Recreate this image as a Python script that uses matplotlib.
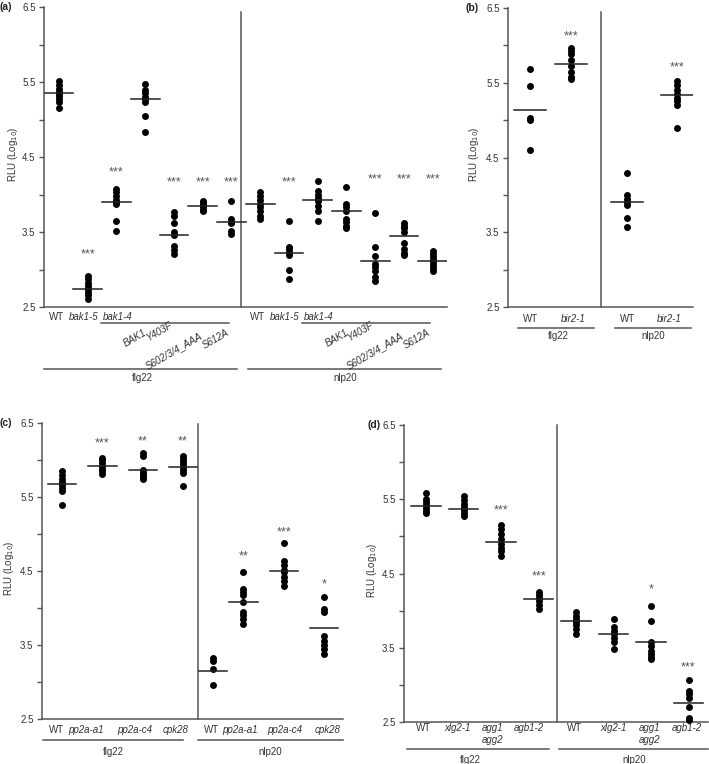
import matplotlib
matplotlib.use("Agg")
import matplotlib.pyplot as plt

plt.rcParams["font.family"] = ["Liberation Sans", "DejaVu Sans"]

FIG_W, FIG_H = 709, 764
INK = "#333333"
AXIS = "#555555"
FS = 7

# ---------------------------------------------------------------------------
# Data (RLU, log10)
# ---------------------------------------------------------------------------

# (a) bak1 complementation lines
A_POS = [0, 1, 2, 3, 4, 5, 6, 7, 8, 9, 10, 11, 12, 13]
A_DOTS = [
    [5.52, 5.46, 5.41, 5.37, 5.34, 5.31, 5.28, 5.23, 5.16],
    [2.92, 2.87, 2.82, 2.78, 2.74, 2.70, 2.66, 2.61],
    [4.08, 4.03, 3.98, 3.93, 3.90, 3.87, 3.65, 3.51],
    [5.47, 5.40, 5.35, 5.30, 5.27, 5.24, 5.05, 4.83],
    [3.77, 3.72, 3.62, 3.50, 3.46, 3.32, 3.26, 3.21],
    [3.92, 3.89, 3.86, 3.83, 3.80, 3.78],
    [3.92, 3.67, 3.64, 3.62, 3.52, 3.48],
    [4.03, 3.98, 3.93, 3.88, 3.83, 3.78, 3.72, 3.68],
    [3.65, 3.30, 3.27, 3.23, 3.20, 3.00, 2.87],
    [4.18, 4.05, 4.00, 3.96, 3.92, 3.85, 3.78, 3.65],
    [4.10, 3.88, 3.83, 3.78, 3.68, 3.63, 3.58, 3.56],
    [3.75, 3.30, 3.18, 3.08, 3.03, 2.98, 2.90, 2.85],
    [3.62, 3.58, 3.55, 3.50, 3.36, 3.28, 3.22, 3.20],
    [3.25, 3.21, 3.17, 3.13, 3.10, 3.06, 3.02, 2.98],
]
A_MEANS = [5.35, 2.74, 3.90, 5.28, 3.46, 3.85, 3.63,
           3.87, 3.22, 3.93, 3.78, 3.12, 3.45, 3.12]
A_STARS = ["", "***", "***", "", "***", "***", "***",
           "", "***", "", "", "***", "***", "***"]
A_STAR_Y = [0, 3.20, 4.29, 0, 4.16, 4.16, 4.16,
            0, 4.16, 0, 0, 4.20, 4.20, 4.20]
A_TOP_LABELS = ["WT", "bak1-5", "bak1-4"]
A_TOP_POS = [-0.1, 0.87, 2.03]
A_ROT_LABELS = ["BAK1", "Y403F", "S602/3/4_AAA", "S612A"]

# (b) bir2-1
B_POS = [0, 1, 2.37, 3.59]
B_DOTS = [
    [5.69, 5.46, 5.03, 5.00, 4.60],
    [5.96, 5.92, 5.88, 5.80, 5.72, 5.65, 5.58, 5.55],
    [4.29, 4.00, 3.95, 3.90, 3.86, 3.69, 3.57],
    [5.52, 5.47, 5.40, 5.35, 5.30, 5.25, 5.20, 4.90],
]
B_MEANS = [5.14, 5.75, 3.90, 5.33]
B_STARS = ["", "***", "", "***"]
B_STAR_Y = [0, 6.12, 0, 5.70]
B_LABELS = ["WT", "bir2-1", "WT", "bir2-1"]
B_LABEL_POS = [0.02, 1.05, 2.37, 3.41]

# (c) pp2a / cpk28
C_POS = [0, 1, 2, 3, 3.75, 4.5, 5.5, 6.5]
C_DOTS = [
    [5.85, 5.80, 5.74, 5.70, 5.66, 5.62, 5.58, 5.39],
    [6.03, 6.00, 5.96, 5.92, 5.88, 5.85, 5.81],
    [6.09, 6.06, 5.86, 5.83, 5.80, 5.77, 5.75],
    [6.05, 6.02, 5.98, 5.94, 5.90, 5.86, 5.82, 5.65],
    [3.32, 3.28, 3.18, 2.96],
    [4.48, 4.26, 4.22, 4.17, 4.08, 3.95, 3.90, 3.85, 3.78],
    [4.88, 4.64, 4.58, 4.52, 4.48, 4.42, 4.36, 4.30],
    [4.15, 3.98, 3.94, 3.62, 3.56, 3.50, 3.45, 3.38],
]
C_MEANS = [5.67, 5.92, 5.87, 5.90, 3.15, 4.08, 4.50, 3.73]
C_STARS = ["", "***", "**", "**", "", "**", "***", "*"]
C_STAR_Y = [0, 6.23, 6.25, 6.25, 0, 4.70, 5.02, 4.32]
C_LABELS = ["WT", "pp2a-a1", "pp2a-c4", "cpk28"] * 2
C_LABEL_POS = [-0.15, 0.6, 1.79, 2.81, 3.70, 4.42, 5.53, 6.58]

# (d) G-protein mutants
D_POS = [0, 1, 2, 3, 4, 5, 6, 7]
D_DOTS = [
    [5.59, 5.50, 5.46, 5.42, 5.38, 5.34, 5.31],
    [5.54, 5.49, 5.44, 5.40, 5.36, 5.31, 5.27],
    [5.15, 5.10, 5.03, 4.96, 4.90, 4.85, 4.80, 4.73],
    [4.25, 4.21, 4.17, 4.13, 4.08, 4.02],
    [3.98, 3.93, 3.89, 3.85, 3.80, 3.75, 3.69],
    [3.89, 3.78, 3.73, 3.68, 3.63, 3.58, 3.48],
    [4.06, 3.86, 3.58, 3.52, 3.46, 3.42, 3.38, 3.35],
    [3.06, 2.92, 2.88, 2.82, 2.70, 2.56, 2.53],
]
D_MEANS = [5.41, 5.37, 4.93, 4.16, 3.86, 3.68, 3.58, 2.75]
D_STARS = ["", "", "***", "***", "", "", "*", "***"]
D_STAR_Y = [0, 0, 5.35, 4.46, 0, 0, 4.28, 3.23]
D_LABELS = ["WT", "xlg2-1", "agg1\nagg2", "agb1-2"] * 2
D_LABEL_POS = [-0.08, 0.85, 1.76, 2.75, 3.97, 4.99, 5.97, 6.96]


def below(ax, px):
    """Pixel offset below the x axis -> axes fraction."""
    return -px / (ax.get_position().height * FIG_H)


def hline(ax, x0, x1, px):
    y = below(ax, px)
    ax.plot([x0, x1], [y, y], color=AXIS, lw=1.1,
            transform=ax.get_xaxis_transform(), clip_on=False)


def label(ax, x, px, s, **kw):
    kw.setdefault("ha", "center")
    kw.setdefault("va", "center")
    ax.text(x, below(ax, px), s, fontsize=FS, color=INK,
            transform=ax.get_xaxis_transform(), **kw)


def strain(ax, x, px, s):
    style = "normal" if s == "WT" else "italic"
    for i, line in enumerate(s.split("\n")):
        label(ax, x, px + 12 * i, line, style=style)


def draw_panel(ax, pos, dots, means, half, stars, star_y, divider, xlim,
               div_top, ylab_x):
    for x, vals, m in zip(pos, dots, means):
        ax.plot([x] * len(vals), vals, "o", color="black", ms=5,
                mec="none", zorder=3, clip_on=False)
        ax.plot([x - half, x + half], [m, m], color="#222222", lw=1.1,
                zorder=4)
    for x, s, y in zip(pos, stars, star_y):
        if s:
            ax.text(x, y, s, ha="center", va="center", fontsize=9,
                    color="#555555")
    ax.plot([divider, divider], [2.5, div_top], color=AXIS, lw=1.1,
            clip_on=False)

    ax.set_xlim(*xlim)
    ax.set_ylim(2.5, 6.5)
    ax.set_yticks([2.5, 3.5, 4.5, 5.5, 6.5])
    ax.set_yticks([3.0, 4.0, 5.0, 6.0], minor=True)
    ax.set_xticks([])
    ax.tick_params(axis="y", which="both", direction="out", length=3.6,
                   width=1, color=AXIS, labelsize=FS, labelcolor=INK, pad=2.5)
    for sp in ("top", "right"):
        ax.spines[sp].set_visible(False)
    for sp in ("left", "bottom"):
        ax.spines[sp].set_color(AXIS)
        ax.spines[sp].set_linewidth(1.1)
    ax.text(ylab_x, 0.51, "RLU (Log$_{10}$)", transform=ax.transAxes,
            rotation=90, ha="center", va="center", fontsize=FS, color=INK)


def axes_px(fig, left, top, right, bottom):
    return fig.add_axes([left / FIG_W, 1 - bottom / FIG_H,
                         (right - left) / FIG_W, (bottom - top) / FIG_H])


fig = plt.figure(figsize=(FIG_W / 100, FIG_H / 100), dpi=100)
fig.patch.set_facecolor("white")

# ---- (a) ----
ax = axes_px(fig, 44, 7, 447, 307)
draw_panel(ax, A_POS, A_DOTS, A_MEANS, 0.5, A_STARS, A_STAR_Y, 6.34,
           (-0.52, 13.5), 6.43, -0.077)
rot_off = [(3.03, 25), (3.94, 17), (4.95, 28), (5.89, 25)]
for base in (0, 7):
    for x, s in zip(A_TOP_POS, A_TOP_LABELS):
        strain(ax, base + x, 10, s)
    hline(ax, base + 1.46, base + 5.92, 16)
    for s, (x, px) in zip(A_ROT_LABELS, rot_off):
        label(ax, base + x, px, s, style="italic", rotation=30,
              rotation_mode="anchor", ha="right")
hline(ax, -0.52, 6.2, 62)
hline(ax, 6.59, 13.3, 62)
label(ax, 2.9, 71, "flg22")
label(ax, 9.97, 71, "nlp20")

# ---- (b) ----
ax = axes_px(fig, 508, 8, 693, 307)
draw_panel(ax, B_POS, B_DOTS, B_MEANS, 0.4, B_STARS, B_STAR_Y, 1.73,
           (-0.54, 3.98), 6.44, -0.184)
for x, s in zip(B_LABEL_POS, B_LABELS):
    strain(ax, x, 12, s)
hline(ax, -0.29, 1.56, 21)
hline(ax, 2.07, 3.93, 21)
label(ax, 0.68, 29, "flg22")
label(ax, 3.0, 29, "nlp20")

# ---- (c) ----
ax = axes_px(fig, 42, 423, 343, 719)
draw_panel(ax, C_POS, C_DOTS, C_MEANS, 0.35, C_STARS, C_STAR_Y, 3.37,
           (-0.5, 6.97), 6.48, -0.11)
for x, s in zip(C_LABEL_POS, C_LABELS):
    strain(ax, x, 11, s)
hline(ax, -0.47, 3.0, 21)
hline(ax, 3.37, 6.97, 21)
label(ax, 1.27, 33, "flg22")
label(ax, 5.16, 33, "nlp20")

# ---- (d) ----
ax = axes_px(fig, 404, 425, 708, 722)
draw_panel(ax, D_POS, D_DOTS, D_MEANS, 0.39, D_STARS, D_STAR_Y, 3.49,
           (-0.59, 7.52), 6.5, -0.106)
for x, s in zip(D_LABEL_POS, D_LABELS):
    strain(ax, x, 6, s)
hline(ax, -0.5, 3.28, 27)
hline(ax, 3.55, 7.52, 27)
label(ax, 1.17, 38, "flg22")
label(ax, 5.55, 38, "nlp20")

# ---- panel letters ----
for s, x, y in [("(a)", 0, 7), ("(b)", 465, 8), ("(c)", 0, 423),
                ("(d)", 368, 425)]:
    fig.text(x / FIG_W, 1 - y / FIG_H, s, fontsize=7.5, weight="bold",
             color="#222222", ha="left", va="center")

fig.savefig("out.png", dpi=100, facecolor="white")
